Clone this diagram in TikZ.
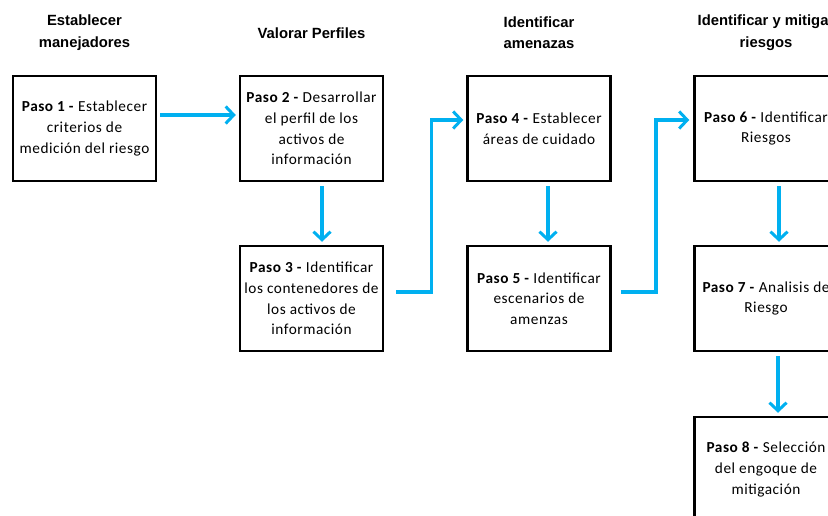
\documentclass[tikz,border=0pt]{standalone}
\usepackage{fontspec}
\setmainfont{Carlito}[LetterSpace=3.5]
\newfontfamily\hdrfont{Liberation Sans}
\usetikzlibrary{arrows.meta,calc}
\definecolor{flowcyan}{RGB}{0,176,240}
\tikzset{
  stepbox/.style={draw=black, line width=2.5pt, minimum width=143pt, minimum height=105pt,
    align=center, inner sep=2pt, font=\fontsize{15.3}{20.6}\selectfont},
  header/.style={align=center, font=\hdrfont\bfseries\fontsize{14.8}{21.5}\selectfont},
  flow/.style={draw=flowcyan, line width=3.5pt,
    -{Straight Barb[length=8pt,width=17pt,line width=3pt]}}
}
\begin{document}
\begin{tikzpicture}[x=1pt,y=-1pt]
\clip (0,0) rectangle (828,516);
\fill[white] (0,0) rectangle (828,516);
% headers
\node[header] (h1) at (84.5,32.5) {Establecer\\manejadores};
\node[header] (h2) at (311.5,33) {Valorar Perfiles};
\node[header] (h3) at (539,32.5) {Identificar\\amenazas};
\node[header] (h4) at (766,32.5) {Identificar y mitigar\\riesgos};
% boxes
\node[stepbox] (b1) at (84.5,128.5) {\textbf{Paso 1 -} Establecer\\criterios de\\medición del riesgo};
\node[stepbox] (b2) at (311.5,128.5) {\textbf{Paso 2 -} Desarrollar\\el perfil de los\\activos de\\información};
\node[stepbox] (b3) at (311.5,298.5) {\textbf{Paso 3 -} Identificar\\los contenedores de\\los activos de\\información};
\node[stepbox] (b4) at (539,128.5) {\textbf{Paso 4 -} Establecer\\áreas de cuidado};
\node[stepbox] (b5) at (539,298.5) {\textbf{Paso 5 -} Identificar\\escenarios de\\amenzas};
\node[stepbox] (b6) at (766,128.5) {\textbf{Paso 6 -} Identificar\\Riesgos};
\node[stepbox] (b7) at (766,298.5) {\textbf{Paso 7 -} Analisis de\\Riesgo};
\node[stepbox] (b8) at (766,469.5) {\textbf{Paso 8 -} Selección\\del engoque de\\mitigación};
% connectors
\draw[flow] ($(b1.east)+(3,-13.5)$) -- ($(b2.west)+(-3,-13.5)$);
\draw[flow] ($(b2.south)+(10.5,4)$) -- ($(b3.north)+(10.5,-3)$);
\draw[flow] ($(b3.east)+(12,-6.5)$) -- ++(35,0) |- ($(b4.west)+(-3,-8.5)$);
\draw[flow] ($(b4.south)+(9,4)$) -- ($(b5.north)+(9,-3)$);
\draw[flow] ($(b5.east)+(9,-6.5)$) -- ++(35,0) |- ($(b6.west)+(-4,-8.5)$);
\draw[flow] ($(b6.south)+(13,4)$) -- ($(b7.north)+(13,-3)$);
\draw[flow] ($(b7.south)+(12,4)$) -- ($(b8.north)+(12,-3)$);
\end{tikzpicture}
\end{document}
